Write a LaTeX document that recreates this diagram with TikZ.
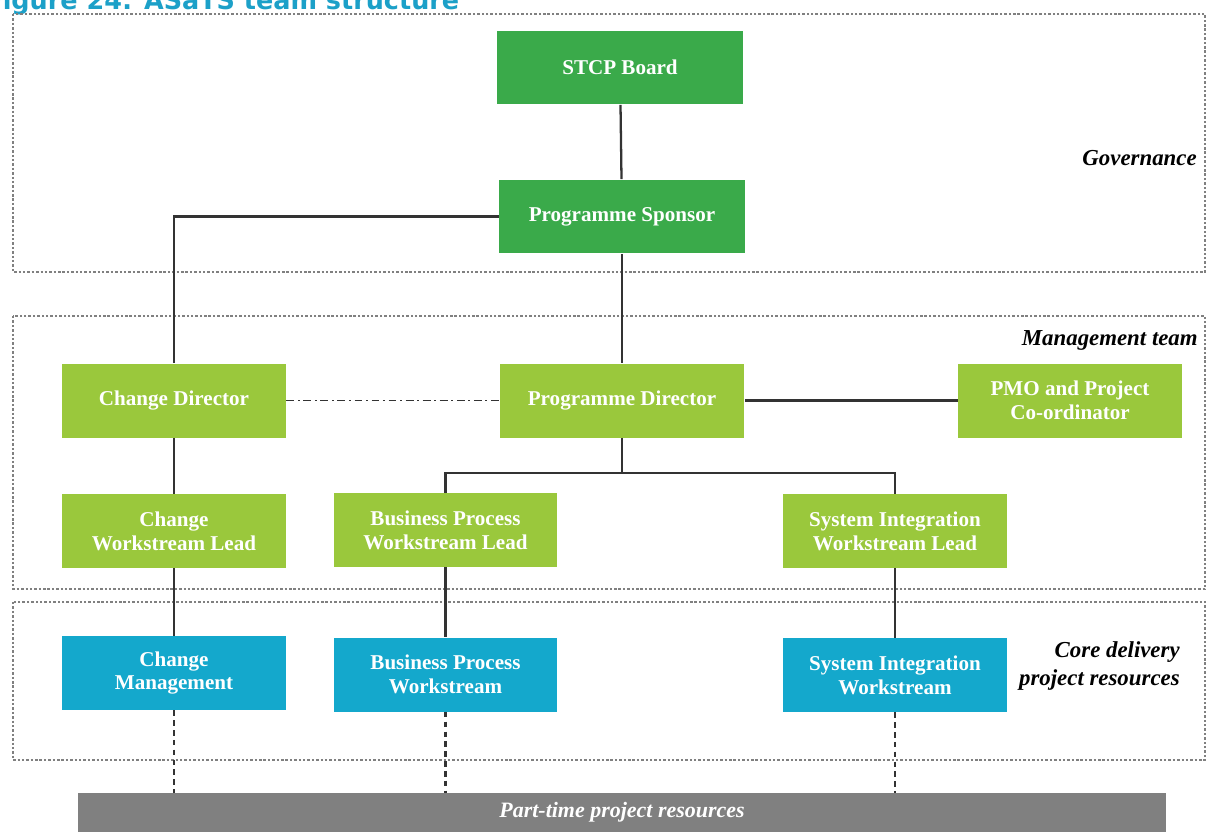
\documentclass[tikz,border=0pt]{standalone}
\usepackage{fontspec}
\setmainfont{Liberation Serif}
\newfontfamily\titlefont{DejaVu Sans}
\usepackage{xcolor}
\usepackage{tikz}
\usetikzlibrary{positioning, calc}
\definecolor{TSGreen}{RGB}{58,170,74}
\definecolor{TSLime}{RGB}{154,200,60}
\definecolor{TSBlue}{RGB}{20,168,204}
\definecolor{TSGrey}{RGB}{128,128,128}
\definecolor{TSCyan}{RGB}{28,160,200}

\begin{document}
\begin{tikzpicture}[x=0.02cm, y=-0.02cm,
      unit/.style={rectangle, minimum height=1.48cm, inner sep=0pt,
                   text=white, align=center,
                   font=\fontsize{12}{13.6}\selectfont\bfseries},
      board/.style={unit, fill=TSGreen, minimum width=4.92cm},
      mgmt/.style={unit, fill=TSLime, minimum width=4.48cm},
      core/.style={unit, fill=TSBlue, minimum width=4.48cm},
      layer/.style={draw=black!50, line width=0.65pt,
                    dash pattern=on 1.4pt off 1.1pt},
      tier/.style={font=\fontsize{13}{15.5}\selectfont\bfseries\itshape,
                   align=right, anchor=east, inner sep=0pt},
      link/.style={draw=black!80, line width=1.3pt},
      part/.style={link, dash pattern=on 3.2pt off 2.4pt},
      peer/.style={link, line width=1.1pt,
                   dash pattern=on 4.5pt off 2pt on 1.2pt off 2pt}
    ]
    \clip (0,0) rectangle (1209,832);

    \node[anchor=base west, text=TSCyan, inner sep=0pt,
          font=\titlefont\fontsize{14.5}{16}\selectfont\bfseries] (title) at (-15,9)
          {Figure 24: ASaTS team structure};

    % Layers
    \draw[layer] (13,14)  rectangle (1205,272);
    \draw[layer] (13,316) rectangle (1205,589);
    \draw[layer] (13,602) rectangle (1205,760);
    \node[tier] (gov)  at (1197,158) {Governance};
    \node[tier] (mgt)  at (1198,340) {Management team};
    \node[tier] (cdr)  at (1180,666) {Core delivery\\project resources};

    \node[board] (stcp)    at (620,67.5)  {STCP Board};
    \node[board] (sponsor) at (622,216.5) {Programme Sponsor};
    \node[mgmt, minimum width=4.9cm] (progdir) at (622,400.5) {Programme Director};
    \node[mgmt]  (chdir)   at (174,400.5) {Change Director};
    \node[mgmt]  (pmo)     at (1070,400.5) {PMO and Project\\Co-ordinator};
    \node[mgmt]  (chlead)  at (174,531)   {Change\\Workstream Lead};
    \node[mgmt]  (bplead)  at (445.5,530) {Business Process\\Workstream Lead};
    \node[mgmt]  (silead)  at (895,531)   {System Integration\\Workstream Lead};
    \node[core]  (chmgmt)  at (174,673)   {Change\\Management};
    \node[core]  (bpws)    at (445.5,674.5) {Business Process\\Workstream};
    \node[core]  (siws)    at (895,675)   {System Integration\\Workstream};
    \node[unit, fill=TSGrey, minimum width=21.76cm, minimum height=0.78cm,
          font=\fontsize{12.5}{14}\selectfont\bfseries\itshape]
          (parttime) at (622,812.5) {Part-time project resources};
    \coordinate (split) at (622,473);

    % Reporting lines
    \draw[link] (stcp) -- (sponsor);
    \draw[link] (sponsor) -- (progdir);
    \draw[link] (sponsor.west) -| (chdir.north);
    \draw[link] (chdir) -- (chlead) -- (chmgmt);
    \draw[link] (progdir) -- (split);
    \draw[link] (bplead.north) |- (split) -| (silead.north);
    \draw[link] (bplead) -- (bpws);
    \draw[link] (silead) -- (siws);
    \draw[link] (progdir) -- (pmo);
    \draw[peer] (chdir) -- (progdir);
    \draw[part] (chmgmt) -- (chmgmt |- parttime.north);
    \draw[part] (bpws)   -- (bpws |- parttime.north);
    \draw[part] (siws)   -- (siws |- parttime.north);
\end{tikzpicture}
\end{document}
